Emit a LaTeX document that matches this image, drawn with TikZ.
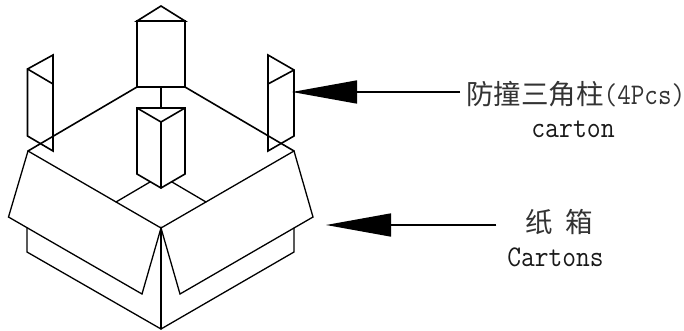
\documentclass[tikz,border=0pt]{standalone}
\usepackage{graphicx}
\usepackage{fontspec}
\newfontfamily\cjk{Noto Sans CJK SC}
\usetikzlibrary{arrows.meta}
\newcommand{\latinlab}[2]{\scalebox{#1}[1]{\fontsize{30}{30}\selectfont\ttfamily #2}}
\tikzset{
  outline/.style={line width=1.6pt,line join=miter,line cap=round,black},
  thinner/.style={line width=1.3pt,line join=miter,line cap=round,black},
  pointer/.style={line width=1.6pt,black,-{Triangle[length=65pt,width=23pt]}},
  zh/.style={inner ysep=0pt,font=\fontsize{27.5}{28}\selectfont\cjk,text=black!80},
  en/.style={inner sep=0pt,text=black!90},
}
\begin{document}
\begin{tikzpicture}[x=1pt,y=-1pt]
\useasboundingbox (0,0) rectangle (684,331);
% back prism
\draw[outline] (137,21) -- (161,6) -- (185,21) -- cycle;
\draw[outline] (137,21) rectangle (185,87);
% left prism
\draw[outline] (27.5,69) -- (53,55) -- (53,151) -- (27.5,136) -- cycle;
\draw[outline] (27.5,69) -- (53,84);
% right prism
\draw[outline] (268,55) -- (294,70) -- (294,136) -- (268,151) -- cycle;
\draw[outline] (268,84) -- (294,70);
% carton rim
\draw[outline] (137,87) -- (28,151);
\draw[outline] (185,87) -- (294,151);
\draw[outline] (161,87) -- (161,108);
% front prism
\draw[outline,fill=white] (137,108) -- (185,108) -- (185,174) -- (161,188) -- (137,174) -- cycle;
\draw[outline] (137,108) -- (161,122) -- (185,108);
\draw[outline] (161,122) -- (161,188);
% inner edges
\draw[thinner] (116,202) -- (150,182);
\draw[thinner] (172,182) -- (206,202);
% flaps
\draw[thinner] (28,151) -- (161,228) -- (294,151);
\draw[thinner] (28,151) -- (8.5,217) -- (142,294) -- (161,228) -- (180,294) -- (313,217) -- (294,151);
% box body
\draw[thinner] (27,228) -- (27,252) -- (161,329) -- (294,252) -- (294,228);
\draw[thinner] (161,228) -- (161,329);
% labels
\node[zh,inner xsep=0pt,anchor=west] (lab1) at (466,94) {防撞三角柱\latinlab{.88}{(4Pcs)}};
\node[en] (lab1b) at (573,129) {\latinlab{.9}{carton}};
\node[zh,inner xsep=29pt] (lab2) at (559,222) {纸\hspace{12pt}箱};
\node[en] (lab2b) at (555.5,257) {\latinlab{.89}{Cartons}};
% pointers
\coordinate (tip1) at (292,92);
\coordinate (tip2) at (326,225);
\draw[pointer] ([xshift=-6pt]lab1.west |- tip1) -- (tip1);
\draw[pointer] (lab2.west |- tip2) -- (tip2);
\end{tikzpicture}
\end{document}
